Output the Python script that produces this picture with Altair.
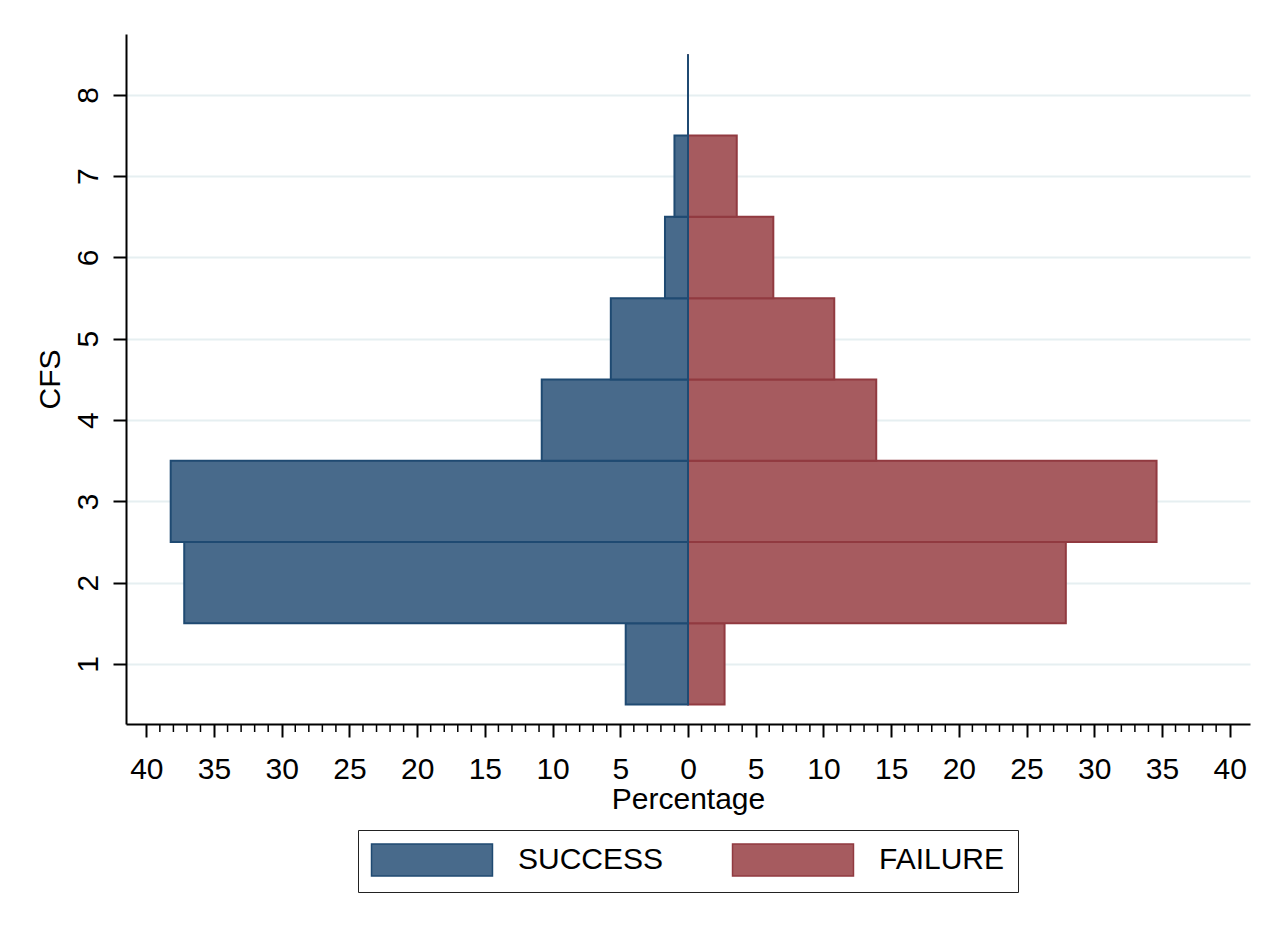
import altair as alt
import pandas as pd

cfs = [1, 2, 3, 4, 5, 6, 7, 8]
success = [4.6, 37.2, 38.2, 10.8, 5.7, 1.7, 1.0, 0.0]
failure = [2.7, 27.9, 34.6, 13.9, 10.8, 6.3, 3.6, 0.0]
groups = ["SUCCESS", "FAILURE"]
fill_colors = ["#486a8b", "#a65b5f"]
stroke_colors = ["#1f4a72", "#913a40"]
x_major = list(range(-40, 41, 5))
x_minor = [v for v in range(-39, 40) if v % 5 != 0]
y_ticks = cfs

rows = []
for c, f in zip(cfs, failure):
    rows.append({"CFS": c, "group": "FAILURE", "pct": f})
for c, s in zip(cfs, success):
    rows.append({"CFS": c, "group": "SUCCESS", "pct": -s})
df = pd.DataFrame(rows)

FONT = "Liberation Sans"
FS = 30
W, H = 1124, 690

x_scale = alt.Scale(domain=[-41.5, 41.5], nice=False, zero=False)
y_scale = alt.Scale(domain=[0.26, 8.75], nice=False, zero=False)

x_axis = alt.Axis(
    title="Percentage",
    values=x_major,
    labelExpr="format(abs(datum.value), 'd')",
    grid=False,
    tickSize=13,
    tickWidth=2,
    tickColor="black",
    domainColor="black",
    domainWidth=2,
    labelFont=FONT,
    labelFontSize=FS,
    labelColor="black",
    labelPadding=17,
    labelOverlap=False,
    labelFlush=False,
    titleFont=FONT,
    titleFontSize=FS,
    titleFontWeight="normal",
    titleColor="black",
    titlePadding=0,
)

legend = alt.Legend(
    title=None,
    orient="none",
    legendX=232,
    legendY=796,
    direction="horizontal",
    columns=2,
    symbolType="M-3.78,-1H3.78V1H-3.78Z",
    symbolSize=1024,
    symbolStrokeWidth=1.5,
    symbolOffset=44,
    labelOffset=69,
    columnPadding=65,
    padding=13,
    labelFont=FONT,
    labelFontSize=FS,
    labelColor="black",
    strokeColor="#222222",
    fillColor="white",
)

bars = (
    alt.Chart(df)
    .transform_calculate(y0="datum.CFS - 0.5", y1="datum.CFS + 0.5")
    .mark_bar(strokeWidth=2, opacity=1)
    .encode(
        x=alt.X("pct:Q", scale=x_scale, axis=x_axis),
        x2=alt.datum(0),
        y=alt.Y(
            "y0:Q",
            scale=y_scale,
            axis=alt.Axis(
                title="CFS",
                values=y_ticks,
                grid=True,
                gridColor="#e6eff1",
                gridWidth=2,
                tickSize=13,
                tickWidth=2,
                tickColor="black",
                domainColor="black",
                domainWidth=2,
                labelFont=FONT,
                labelFontSize=FS,
                labelColor="black",
                labelAngle=270,
                labelAlign="center",
                labelBaseline="alphabetic",
                labelPadding=16,
                labelFlush=False,
                labelOverlap=False,
                titleFont=FONT,
                titleFontSize=FS,
                titleFontWeight="normal",
                titleColor="black",
                titleAngle=270,
                titleBaseline="middle",
                titleX=-76,
            ),
        ),
        y2="y1:Q",
        fill=alt.Fill("group:N", scale=alt.Scale(domain=groups, range=fill_colors), legend=legend),
        stroke=alt.Stroke("group:N", scale=alt.Scale(domain=groups, range=stroke_colors), legend=legend),
    )
)

minor = (
    alt.Chart(pd.DataFrame({"v": x_minor}))
    .mark_rule(color="black", strokeWidth=1.5)
    .encode(
        x=alt.X("v:Q", scale=x_scale, axis=x_axis),
        y=alt.value(H),
        y2=alt.value(H + 8),
    )
)

chart = (
    alt.layer(bars, minor)
    .properties(
        width=W,
        height=H,
        autosize=alt.AutoSizeParams(type="none"),
        padding={"left": 118, "top": 26, "right": 15, "bottom": 190},
        background="white",
    )
    .configure_view(stroke=None)
)

chart.save("out.html", embed_options={"renderer": "svg", "actions": False})
